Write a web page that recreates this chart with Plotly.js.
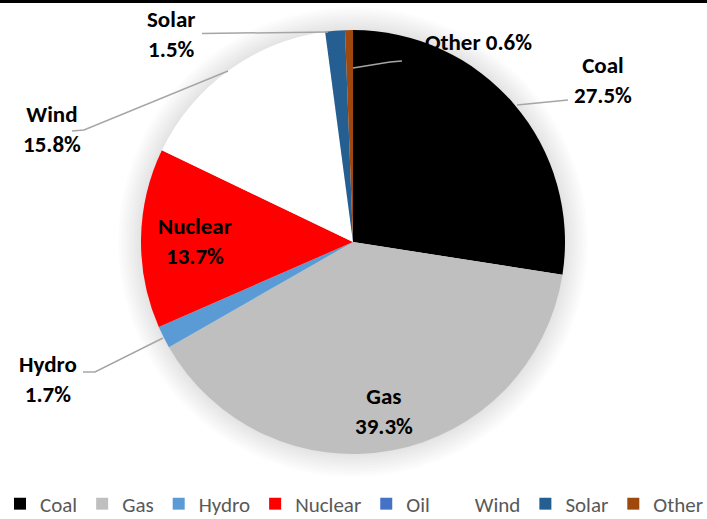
<!DOCTYPE html>
<html>
<head>
<meta charset="utf-8">
<script src="https://cdn.plot.ly/plotly-3.0.1.min.js"></script>
<style>
html,body{margin:0;padding:0;background:#fff;}
#chart{width:707px;height:519px;}
</style>
</head>
<body>
<div id="chart"></div>
<script>
// ---- data ----
var categories = ["Coal", "Gas", "Hydro", "Nuclear", "Oil", "Wind", "Solar", "Other"];
var shares = [27.5, 39.3, 1.7, 13.7, 0, 15.8, 1.5, 0.6];
var colors = ["#000000", "#BFBFBF", "#5B9BD5", "#FF0000", "#4472C4", "#FFFFFF", "#255E91", "#9E480E"];

// ---- geometry helpers (pixels -> paper) ----
var W = 707, H = 519;
function px(x){ return x / W; }
function py(y){ return 1 - y / H; }
var cx = 353, cy = 242, R = 212;

function label(i, oneLine){
  return categories[i] + (oneLine ? " " : "<br>") + shares[i].toFixed(1) + "%";
}

// label placement (pixel centres)
var labelPos = {
  Coal:   [603, 80, false],
  Gas:    [384, 411, false],
  Hydro:  [48, 379, false],
  Nuclear:[195, 240.5, false],
  Wind:   [52, 128.5, false],
  Solar:  [171, 33.5, false],
  Other:  [478, 42, true]
};

var annotations = [];
categories.forEach(function(c, i){
  var p = labelPos[c];
  if(!p) return;
  annotations.push({
    xref: "paper", yref: "paper",
    x: px(p[0]), y: py(p[1]),
    xanchor: "center", yanchor: "middle",
    text: label(i, p[2]),
    showarrow: false,
    align: "center",
    font: {family: "Carlito, Lato, 'Open Sans', sans-serif", size: 23, color: "#000000", weight: "bold"}
  });
});

// leader lines (pixel polylines)
var leaders = [
  [[202,33.5],[328,32]],
  [[72,131],[84,130],[228,71]],
  [[83,372],[95,372],[163,338]],
  [[353,68],[390,62],[402,61]],
  [[517,105],[568,100]]
];
var shapes = [];
// soft glow behind pie
for(var k = 0; k < 9; k++){
  var rr = R + 2 + k * 2.6;
  shapes.push({
    type: "circle", xref: "paper", yref: "paper", layer: "below",
    x0: px(cx - rr), x1: px(cx + rr), y0: py(cy + rr), y1: py(cy - rr),
    fillcolor: "rgba(0,0,0,0.01)", line: {width: 0}
  });
}
leaders.forEach(function(pts){
  var d = pts.map(function(p, j){ return (j ? "L" : "M") + px(p[0]) + "," + py(p[1]); }).join("");
  shapes.push({type: "path", xref: "paper", yref: "paper", path: d,
    line: {color: "#A6A6A6", width: 1.5}});
});
// top rule
shapes.push({type: "line", xref: "paper", yref: "paper", x0: 0, x1: 1, y0: py(1.5), y1: py(1.5),
  line: {color: "#000000", width: 3}});

var trace = {
  type: "pie",
  labels: categories,
  values: shares,
  sort: false,
  direction: "clockwise",
  rotation: 0,
  marker: {colors: colors, line: {width: 0}},
  textinfo: "none",
  hoverinfo: "label+percent",
  domain: {x: [px(cx - R), px(cx + R)], y: [py(cy + R), py(cy - R)]}
};

var layout = {
  width: W, height: H,
  margin: {l: 0, r: 0, t: 0, b: 0, autoexpand: false},
  paper_bgcolor: "#FFFFFF",
  showlegend: true,
  legend: {
    orientation: "h",
    x: 0, xanchor: "left",
    y: py(504), yanchor: "middle",
    font: {family: "Carlito, Lato, 'Open Sans', sans-serif", size: 21, color: "#595959"},
    itemwidth: 30,
    traceorder: "normal"
  },
  annotations: annotations,
  shapes: shapes
};

Plotly.newPlot("chart", [trace], layout, {displayModeBar: false, staticPlot: true});
</script>
</body>
</html>
